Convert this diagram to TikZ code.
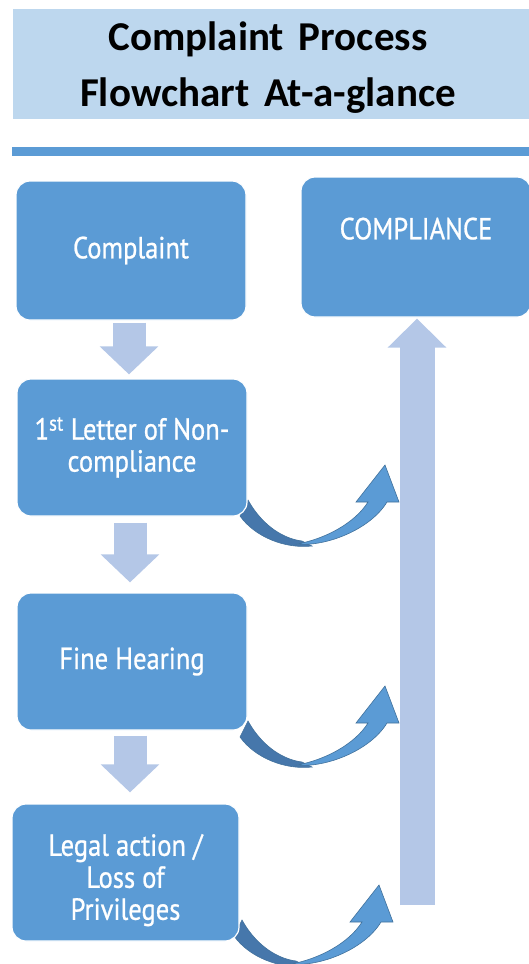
\documentclass[tikz,border=0pt]{standalone}
\usepackage{fontspec}
\usepackage{tikz}
\usetikzlibrary{arrows.meta,calc}

\newfontfamily\titlefont[WordSpace=1.6]{Carlito}
\newfontfamily\boxfont[FakeStretch=0.87,FakeBold=0.8]{PT Sans}

\definecolor{boxblue}{HTML}{5B9BD5}
\definecolor{paleblue}{HTML}{B4C7E7}
\definecolor{titleblue}{HTML}{BDD7EE}
\definecolor{bendback}{HTML}{4677AB}
\definecolor{bendline}{HTML}{41719C}

\tikzset{
  stepbox/.style={rectangle, rounded corners=14pt, fill=boxblue, draw=white,
    line width=1.2pt, text=white, align=center, inner sep=0pt,
    font=\boxfont\fontsize{30.5}{32}\selectfont,
    minimum width=230pt, minimum height=137pt},
  titletext/.style={anchor=base, inner sep=0pt,
    font=\titlefont\bfseries\fontsize{41}{56}\selectfont},
  downarrow/.style={draw=paleblue, line width=33pt,
    -{Triangle[width=57pt,length=28pt]}},
  uparrow/.style={draw=paleblue, line width=35pt,
    -{Triangle[width=57pt,length=29pt]}},
  bend arrow/.pic={
    % back face of the curved arrow
    \fill[bendback, draw=bendline, line width=0.6pt]
      (-145,51) -- (-137,35) .. controls (-122,62) and (-100,74) .. (-83,76)
      -- (-73,81) .. controls (-100,84) and (-130,72) .. (-145,51) -- cycle;
    % front face with the head
    \fill[boxblue, draw=bendline, line width=0.6pt]
      (-88,79) .. controls (-60,82) and (-15,65) .. (2,37)
      -- (14,37) -- (0,0) -- (-29,37) -- (-17,37)
      .. controls (-30,58) and (-60,74) .. (-88,79) -- cycle;
  }
}

\begin{document}
\begin{tikzpicture}[x=1pt, y=-1pt, line join=miter]
  \useasboundingbox (0,0) rectangle (529,964);

  % title band and rule
  \fill[titleblue] (13,9) rectangle (535,119);
  \node[titletext] (title1) at (268,50) {Complaint Process};
  \node[titletext] (title2) at (268,106) {Flowchart At-a-glance};
  \fill[boxblue] (12,147) rectangle (535,156);

  % curved arrows back to compliance
  \coordinate (tipA) at (385,465);
  \coordinate (tipB) at (385,686);
  \coordinate (tipC) at (379,885);
  \pic at (tipA) {bend arrow};
  \pic at (tipB) {bend arrow};
  \pic at (tipC) {bend arrow};

  % steps
  \node[stepbox, minimum height=139pt] (complaint) at (131,250.5) {Complaint};
  \node[stepbox] (letter) at (132,447.5) {1\textsuperscript{st} Letter of Non-\\compliance};
  \node[stepbox] (hearing) at (132,661.5) {Fine Hearing};
  \node[stepbox, minimum width=227pt] (legal) at (125.5,872.5) {\rule{0pt}{37pt}Legal action /\\Loss of\\Privileges};
  \node[stepbox, minimum height=140pt, text depth=37pt] (compliance) at (416,247) {COMPLIANCE};

  % flow arrows
  \draw[downarrow] ($(complaint.south)+(-2,2)$) -- ($(complaint.south |- letter.north)+(-2,-4)$);
  \draw[downarrow] ($(letter.south)+(-2,6)$) -- ($(letter.south |- hearing.north)+(-2,-10)$);
  \draw[downarrow] ($(hearing.south)+(-2,5)$) -- ($(hearing.south |- legal.north)+(-2,-11)$);

  \coordinate (upbase) at (417,905);
  \draw[uparrow] (upbase) -- ($(upbase |- compliance.south)+(0,1)$);
\end{tikzpicture}
\end{document}
